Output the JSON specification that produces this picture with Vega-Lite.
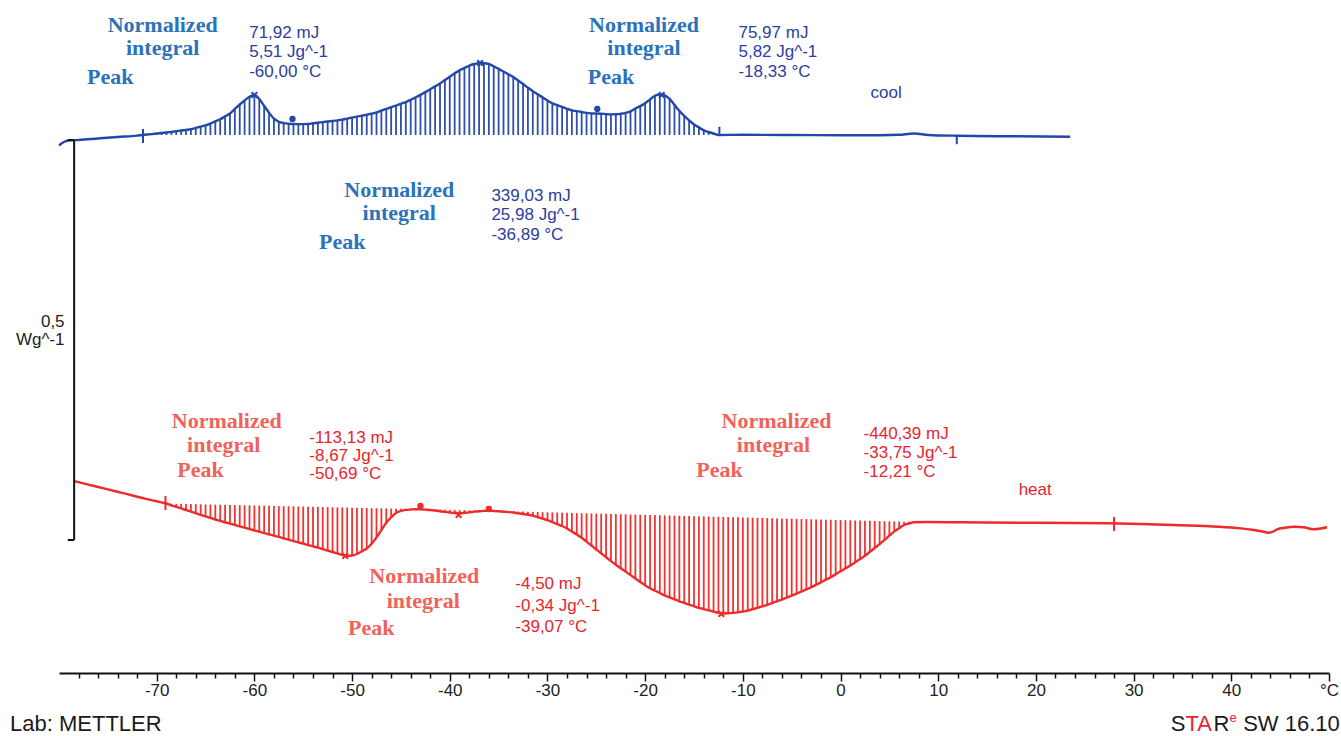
{
  "$schema": "https://vega.github.io/schema/vega-lite/v6.json",
  "width": 1270,
  "height": 673,
  "autosize": {"type": "none"},
  "padding": {"left": 59, "top": 0, "right": 12, "bottom": 63},
  "background": "white",
  "config": {"view": {"stroke": null}, "font": "Liberation Sans"},
  "datasets": {
    "dsc": [
      {"s":"cool","T":-80,"v":493.1},{"s":"cool","T":-79.5,"v":497.5},{"s":"cool","T":-79,"v":499.4},{"s":"cool","T":-78,"v":500.0},{"s":"cool","T":-76,"v":501.9},{"s":"cool","T":-74,"v":503.8},{"s":"cool","T":-72,"v":505.5},
      {"s":"cool","T":-71.5,"v":506.3,"b":506.3},{"s":"cool","T":-71,"v":506.8,"b":506.3},{"s":"cool","T":-70.5,"v":507.4,"b":506.3},{"s":"cool","T":-70,"v":508.1,"b":506.3},{"s":"cool","T":-69.5,"v":508.8,"b":506.3},{"s":"cool","T":-69,"v":509.4,"b":506.3},{"s":"cool","T":-68.5,"v":510.1,"b":506.3},{"s":"cool","T":-68,"v":510.9,"b":506.3},{"s":"cool","T":-67.5,"v":511.8,"b":506.3},{"s":"cool","T":-67,"v":512.6,"b":506.3},{"s":"cool","T":-66.5,"v":513.5,"b":506.3},{"s":"cool","T":-66,"v":515.1,"b":506.3},{"s":"cool","T":-65.5,"v":516.8,"b":506.3},{"s":"cool","T":-65,"v":518.3,"b":506.3},{"s":"cool","T":-64.5,"v":520.6,"b":506.3},{"s":"cool","T":-64,"v":523.3,"b":506.3},{"s":"cool","T":-63.5,"v":525.9,"b":506.3},{"s":"cool","T":-63,"v":529.5,"b":506.3},{"s":"cool","T":-62.5,"v":533.1,"b":506.3},{"s":"cool","T":-62,"v":538.8,"b":506.3},{"s":"cool","T":-61.5,"v":544.4,"b":506.3},{"s":"cool","T":-61,"v":549.6,"b":506.3},{"s":"cool","T":-60.5,"v":554.0,"b":506.3},{"s":"cool","T":-60,"v":556.3,"b":506.3},{"s":"cool","T":-59.5,"v":551.3,"b":506.3},{"s":"cool","T":-59,"v":542.6,"b":506.3},{"s":"cool","T":-58.5,"v":534.1,"b":506.3},{"s":"cool","T":-58,"v":526.8,"b":506.3},{"s":"cool","T":-57.5,"v":522.8,"b":506.3},{"s":"cool","T":-57,"v":521.1,"b":506.3},{"s":"cool","T":-56.5,"v":520.3,"b":506.3},{"s":"cool","T":-56,"v":520.0,"b":506.3},{"s":"cool","T":-55.5,"v":519.9,"b":506.3},{"s":"cool","T":-55,"v":519.9,"b":506.3},{"s":"cool","T":-54.5,"v":520.0,"b":506.3},{"s":"cool","T":-54,"v":520.9,"b":506.3},{"s":"cool","T":-53.5,"v":521.6,"b":506.3},{"s":"cool","T":-53,"v":522.4,"b":506.3},{"s":"cool","T":-52.5,"v":523.1,"b":506.3},{"s":"cool","T":-52,"v":523.9,"b":506.3},{"s":"cool","T":-51.5,"v":524.6,"b":506.3},{"s":"cool","T":-51,"v":525.5,"b":506.3},{"s":"cool","T":-50.5,"v":526.8,"b":506.3},{"s":"cool","T":-50,"v":528.0,"b":506.3},{"s":"cool","T":-49.5,"v":529.3,"b":506.3},{"s":"cool","T":-49,"v":530.4,"b":506.3},{"s":"cool","T":-48.5,"v":531.6,"b":506.3},{"s":"cool","T":-48,"v":532.9,"b":506.3},{"s":"cool","T":-47.5,"v":534.6,"b":506.3},{"s":"cool","T":-47,"v":536.8,"b":506.3},{"s":"cool","T":-46.5,"v":538.9,"b":506.3},{"s":"cool","T":-46,"v":541.0,"b":506.3},{"s":"cool","T":-45.5,"v":543.1,"b":506.3},{"s":"cool","T":-45,"v":545.3,"b":506.3},{"s":"cool","T":-44.5,"v":547.4,"b":506.3},{"s":"cool","T":-44,"v":550.3,"b":506.3},{"s":"cool","T":-43.5,"v":553.3,"b":506.3},{"s":"cool","T":-43,"v":556.4,"b":506.3},{"s":"cool","T":-42.5,"v":559.8,"b":506.3},{"s":"cool","T":-42,"v":563.4,"b":506.3},{"s":"cool","T":-41.5,"v":567.0,"b":506.3},{"s":"cool","T":-41,"v":570.6,"b":506.3},{"s":"cool","T":-40.5,"v":574.9,"b":506.3},{"s":"cool","T":-40,"v":579.1,"b":506.3},{"s":"cool","T":-39.5,"v":583.4,"b":506.3},{"s":"cool","T":-39,"v":587.0,"b":506.3},{"s":"cool","T":-38.5,"v":590.0,"b":506.3},{"s":"cool","T":-38,"v":593.1,"b":506.3},{"s":"cool","T":-37.5,"v":595.0,"b":506.3},{"s":"cool","T":-37,"v":596.1,"b":506.3},{"s":"cool","T":-36.5,"v":596.0,"b":506.3},{"s":"cool","T":-36,"v":595.0,"b":506.3},{"s":"cool","T":-35.5,"v":592.1,"b":506.3},{"s":"cool","T":-35,"v":588.9,"b":506.3},{"s":"cool","T":-34.5,"v":585.5,"b":506.3},{"s":"cool","T":-34,"v":582.1,"b":506.3},{"s":"cool","T":-33.5,"v":578.8,"b":506.3},{"s":"cool","T":-33,"v":574.3,"b":506.3},{"s":"cool","T":-32.5,"v":569.9,"b":506.3},{"s":"cool","T":-32,"v":565.4,"b":506.3},{"s":"cool","T":-31.5,"v":561.0,"b":506.3},{"s":"cool","T":-31,"v":557.1,"b":506.3},{"s":"cool","T":-30.5,"v":553.3,"b":506.3},{"s":"cool","T":-30,"v":549.4,"b":506.3},{"s":"cool","T":-29.5,"v":545.8,"b":506.3},{"s":"cool","T":-29,"v":543.5,"b":506.3},{"s":"cool","T":-28.5,"v":541.3,"b":506.3},{"s":"cool","T":-28,"v":539.0,"b":506.3},{"s":"cool","T":-27.5,"v":537.1,"b":506.3},{"s":"cool","T":-27,"v":536.1,"b":506.3},{"s":"cool","T":-26.5,"v":535.0,"b":506.3},{"s":"cool","T":-26,"v":533.9,"b":506.3},{"s":"cool","T":-25.5,"v":533.3,"b":506.3},{"s":"cool","T":-25,"v":533.1,"b":506.3},{"s":"cool","T":-24.5,"v":532.8,"b":506.3},{"s":"cool","T":-24,"v":532.4,"b":506.3},{"s":"cool","T":-23.5,"v":532.0,"b":506.3},{"s":"cool","T":-23,"v":532.1,"b":506.3},{"s":"cool","T":-22.5,"v":532.8,"b":506.3},{"s":"cool","T":-22,"v":533.9,"b":506.3},{"s":"cool","T":-21.5,"v":535.8,"b":506.3},{"s":"cool","T":-21,"v":539.3,"b":506.3},{"s":"cool","T":-20.5,"v":542.3,"b":506.3},{"s":"cool","T":-20,"v":546.0,"b":506.3},{"s":"cool","T":-19.5,"v":550.8,"b":506.3},{"s":"cool","T":-19,"v":555.3,"b":506.3},{"s":"cool","T":-18.5,"v":556.9,"b":506.3},{"s":"cool","T":-18,"v":555.9,"b":506.3},{"s":"cool","T":-17.5,"v":551.3,"b":506.3},{"s":"cool","T":-17,"v":543.9,"b":506.3},{"s":"cool","T":-16.5,"v":536.5,"b":506.3},{"s":"cool","T":-16,"v":530.1,"b":506.3},{"s":"cool","T":-15.5,"v":524.6,"b":506.3},{"s":"cool","T":-15,"v":519.4,"b":506.3},{"s":"cool","T":-14.5,"v":515.8,"b":506.3},{"s":"cool","T":-14,"v":512.0,"b":506.3},{"s":"cool","T":-13.5,"v":510.0,"b":506.3},{"s":"cool","T":-13,"v":508.1,"b":506.3},{"s":"cool","T":-12.5,"v":506.3,"b":506.3},
      {"s":"cool","T":-10,"v":506.5},{"s":"cool","T":-5,"v":506.3},{"s":"cool","T":0,"v":506.0},{"s":"cool","T":4,"v":505.9},{"s":"cool","T":6,"v":506.5},{"s":"cool","T":7.5,"v":508.1},{"s":"cool","T":9,"v":506.3},{"s":"cool","T":12,"v":505.3},{"s":"cool","T":18,"v":504.6},{"s":"cool","T":23.5,"v":504.0},
      {"s":"heat","T":-78.5,"v":73.8},{"s":"heat","T":-78,"v":72.3},{"s":"heat","T":-77,"v":69.3},{"s":"heat","T":-76,"v":66.3},{"s":"heat","T":-75,"v":63.3},{"s":"heat","T":-74,"v":60.3},{"s":"heat","T":-73,"v":57.3},{"s":"heat","T":-72,"v":54.1},{"s":"heat","T":-71,"v":51.1},{"s":"heat","T":-70,"v":48.4},{"s":"heat","T":-69.5,"v":47.0},
      {"s":"heat","T":-69,"v":45.6,"b":45.6},{"s":"heat","T":-68.5,"v":43.4,"b":45.5},{"s":"heat","T":-68,"v":41.4,"b":45.3},{"s":"heat","T":-67.5,"v":39.4,"b":45.2},{"s":"heat","T":-67,"v":37.5,"b":45.1},{"s":"heat","T":-66.5,"v":35.5,"b":44.9},{"s":"heat","T":-66,"v":33.5,"b":44.8},{"s":"heat","T":-65.5,"v":31.5,"b":44.6},{"s":"heat","T":-65,"v":29.6,"b":44.5},{"s":"heat","T":-64.5,"v":27.6,"b":44.4},{"s":"heat","T":-64,"v":25.6,"b":44.2},{"s":"heat","T":-63.5,"v":23.9,"b":44.1},{"s":"heat","T":-63,"v":22.1,"b":44.0},{"s":"heat","T":-62.5,"v":20.5,"b":43.8},{"s":"heat","T":-62,"v":18.8,"b":43.7},{"s":"heat","T":-61.5,"v":17.0,"b":43.5},{"s":"heat","T":-61,"v":15.4,"b":43.4},{"s":"heat","T":-60.5,"v":13.6,"b":43.3},{"s":"heat","T":-60,"v":12.0,"b":43.1},{"s":"heat","T":-59.5,"v":10.4,"b":43.0},{"s":"heat","T":-59,"v":8.6,"b":42.9},{"s":"heat","T":-58.5,"v":7.0,"b":42.7},{"s":"heat","T":-58,"v":5.4,"b":42.6},{"s":"heat","T":-57.5,"v":3.8,"b":42.4},{"s":"heat","T":-57,"v":2.0,"b":42.3},{"s":"heat","T":-56.5,"v":0.4,"b":42.2},{"s":"heat","T":-56,"v":-1.3,"b":42.0},{"s":"heat","T":-55.5,"v":-2.9,"b":41.9},{"s":"heat","T":-55,"v":-4.5,"b":41.8},{"s":"heat","T":-54.5,"v":-6.3,"b":41.6},{"s":"heat","T":-54,"v":-7.9,"b":41.5},{"s":"heat","T":-53.5,"v":-9.5,"b":41.4},{"s":"heat","T":-53,"v":-11.4,"b":41.2},{"s":"heat","T":-52.5,"v":-13.1,"b":41.1},{"s":"heat","T":-52,"v":-15.0,"b":40.9},{"s":"heat","T":-51.5,"v":-16.8,"b":40.8},{"s":"heat","T":-51,"v":-18.8,"b":40.7},{"s":"heat","T":-50.5,"v":-19.9,"b":40.5},{"s":"heat","T":-50,"v":-19.4,"b":40.4},{"s":"heat","T":-49.5,"v":-17.5,"b":40.3},{"s":"heat","T":-49,"v":-14.0,"b":40.1},{"s":"heat","T":-48.5,"v":-10.6,"b":40.0},{"s":"heat","T":-48,"v":-4.6,"b":39.8},{"s":"heat","T":-47.5,"v":3.3,"b":39.7},{"s":"heat","T":-47,"v":12.4,"b":39.6},{"s":"heat","T":-46.5,"v":21.6,"b":39.4},{"s":"heat","T":-46,"v":28.3,"b":39.3},{"s":"heat","T":-45.5,"v":33.8,"b":39.2},{"s":"heat","T":-45,"v":36.3,"b":39.0},{"s":"heat","T":-44.5,"v":37.6,"b":38.9},{"s":"heat","T":-44,"v":38.1,"b":38.8},{"s":"heat","T":-43.5,"v":38.5,"b":38.6},{"s":"heat","T":-43,"v":38.5,"b":38.5},
      {"s":"heat","T":-42.5,"v":38.0,"b":38.4},{"s":"heat","T":-42,"v":37.5,"b":38.2},{"s":"heat","T":-41.5,"v":36.8,"b":38.1},{"s":"heat","T":-41,"v":36.0,"b":38.0},{"s":"heat","T":-40.5,"v":35.1,"b":37.8},{"s":"heat","T":-40,"v":34.4,"b":37.7},{"s":"heat","T":-39.5,"v":33.8,"b":37.6},{"s":"heat","T":-39,"v":33.5,"b":37.4},{"s":"heat","T":-38.5,"v":34.0,"b":37.3},{"s":"heat","T":-38,"v":34.6,"b":37.1},{"s":"heat","T":-37.5,"v":35.4,"b":37.0},{"s":"heat","T":-37,"v":36.0,"b":36.9},{"s":"heat","T":-36.5,"v":36.4,"b":36.7},{"s":"heat","T":-36,"v":36.6,"b":36.6},
      {"s":"heat","T":-35.5,"v":36.3,"b":36.4},{"s":"heat","T":-35,"v":35.9,"b":36.3},{"s":"heat","T":-34.5,"v":35.4,"b":36.1},{"s":"heat","T":-34,"v":34.9,"b":35.9},{"s":"heat","T":-33.5,"v":34.3,"b":35.8},{"s":"heat","T":-33,"v":33.4,"b":35.6},{"s":"heat","T":-32.5,"v":32.5,"b":35.5},{"s":"heat","T":-32,"v":31.6,"b":35.3},{"s":"heat","T":-31.5,"v":30.4,"b":35.1},{"s":"heat","T":-31,"v":28.5,"b":35.0},{"s":"heat","T":-30.5,"v":26.6,"b":34.8},{"s":"heat","T":-30,"v":24.8,"b":34.7},{"s":"heat","T":-29.5,"v":22.4,"b":34.5},{"s":"heat","T":-29,"v":19.9,"b":34.3},{"s":"heat","T":-28.5,"v":17.5,"b":34.2},{"s":"heat","T":-28,"v":14.3,"b":34.0},{"s":"heat","T":-27.5,"v":10.5,"b":33.8},{"s":"heat","T":-27,"v":6.9,"b":33.7},{"s":"heat","T":-26.5,"v":2.9,"b":33.5},{"s":"heat","T":-26,"v":-2.0,"b":33.4},{"s":"heat","T":-25.5,"v":-6.9,"b":33.2},{"s":"heat","T":-25,"v":-11.8,"b":33.0},{"s":"heat","T":-24.5,"v":-16.6,"b":32.9},{"s":"heat","T":-24,"v":-21.5,"b":32.7},{"s":"heat","T":-23.5,"v":-26.4,"b":32.6},{"s":"heat","T":-23,"v":-31.0,"b":32.4},{"s":"heat","T":-22.5,"v":-35.3,"b":32.2},{"s":"heat","T":-22,"v":-39.5,"b":32.1},{"s":"heat","T":-21.5,"v":-43.9,"b":31.9},{"s":"heat","T":-21,"v":-48.1,"b":31.7},{"s":"heat","T":-20.5,"v":-52.4,"b":31.6},{"s":"heat","T":-20,"v":-56.6,"b":31.4},{"s":"heat","T":-19.5,"v":-60.3,"b":31.3},{"s":"heat","T":-19,"v":-63.3,"b":31.1},{"s":"heat","T":-18.5,"v":-66.3,"b":30.9},{"s":"heat","T":-18,"v":-69.3,"b":30.8},{"s":"heat","T":-17.5,"v":-71.6,"b":30.6},{"s":"heat","T":-17,"v":-74.1,"b":30.4},{"s":"heat","T":-16.5,"v":-76.6,"b":30.3},{"s":"heat","T":-16,"v":-78.6,"b":30.1},{"s":"heat","T":-15.5,"v":-80.8,"b":30.0},{"s":"heat","T":-15,"v":-82.8,"b":29.8},{"s":"heat","T":-14.5,"v":-84.8,"b":29.6},{"s":"heat","T":-14,"v":-86.4,"b":29.5},{"s":"heat","T":-13.5,"v":-88.0,"b":29.3},{"s":"heat","T":-13,"v":-89.5,"b":29.1},{"s":"heat","T":-12.5,"v":-91.0,"b":29.0},{"s":"heat","T":-12,"v":-91.8,"b":28.8},{"s":"heat","T":-11.5,"v":-91.6,"b":28.7},{"s":"heat","T":-11,"v":-91.1,"b":28.5},{"s":"heat","T":-10.5,"v":-90.4,"b":28.3},{"s":"heat","T":-10,"v":-89.5,"b":28.2},{"s":"heat","T":-9.5,"v":-88.3,"b":28.0},{"s":"heat","T":-9,"v":-86.5,"b":27.9},{"s":"heat","T":-8.5,"v":-84.8,"b":27.7},{"s":"heat","T":-8,"v":-83.0,"b":27.5},{"s":"heat","T":-7.5,"v":-81.0,"b":27.4},{"s":"heat","T":-7,"v":-78.8,"b":27.2},{"s":"heat","T":-6.5,"v":-76.6,"b":27.0},{"s":"heat","T":-6,"v":-74.4,"b":26.9},{"s":"heat","T":-5.5,"v":-71.9,"b":26.7},{"s":"heat","T":-5,"v":-69.5,"b":26.6},{"s":"heat","T":-4.5,"v":-67.0,"b":26.4},{"s":"heat","T":-4,"v":-64.4,"b":26.2},{"s":"heat","T":-3.5,"v":-61.8,"b":26.1},{"s":"heat","T":-3,"v":-59.0,"b":25.9},{"s":"heat","T":-2.5,"v":-56.0,"b":25.7},{"s":"heat","T":-2,"v":-52.9,"b":25.6},{"s":"heat","T":-1.5,"v":-49.6,"b":25.4},{"s":"heat","T":-1,"v":-46.5,"b":25.3},{"s":"heat","T":-0.5,"v":-42.9,"b":25.1},{"s":"heat","T":0,"v":-39.1,"b":24.9},{"s":"heat","T":0.5,"v":-35.5,"b":24.8},{"s":"heat","T":1,"v":-31.8,"b":24.6},{"s":"heat","T":1.5,"v":-27.9,"b":24.4},{"s":"heat","T":2,"v":-23.9,"b":24.3},{"s":"heat","T":2.5,"v":-19.8,"b":24.1},{"s":"heat","T":3,"v":-14.9,"b":24.0},{"s":"heat","T":3.5,"v":-10.0,"b":23.8},{"s":"heat","T":4,"v":-5.1,"b":23.6},{"s":"heat","T":4.5,"v":0.1,"b":23.5},{"s":"heat","T":5,"v":5.5,"b":23.3},{"s":"heat","T":5.5,"v":10.8,"b":23.1},{"s":"heat","T":6,"v":14.8,"b":23.0},{"s":"heat","T":6.5,"v":18.8,"b":22.8},{"s":"heat","T":7,"v":20.6,"b":22.7},{"s":"heat","T":7.5,"v":22.1,"b":22.5},
      {"s":"heat","T":8.9,"v":22.5},{"s":"heat","T":12.3,"v":22.1},{"s":"heat","T":20,"v":21.5},{"s":"heat","T":27.3,"v":20.9},{"s":"heat","T":34.1,"v":18.8},{"s":"heat","T":41,"v":14.6},{"s":"heat","T":42.3,"v":12.5},{"s":"heat","T":43.2,"v":10.6},{"s":"heat","T":43.8,"v":9.1},{"s":"heat","T":44.3,"v":10.6},{"s":"heat","T":44.7,"v":13.4},{"s":"heat","T":45.5,"v":15.3},{"s":"heat","T":46.4,"v":16.6},{"s":"heat","T":47.4,"v":15.9},{"s":"heat","T":48.4,"v":13.4},{"s":"heat","T":49.8,"v":15.9}
    ],
    "marks": [
      {"s":"cool","k":"bar","T":-71.4,"v":505},
      {"s":"cool","k":"dot","T":-56.1,"v":526.25},
      {"s":"cool","k":"dot","T":-24.9,"v":538.75},
      {"s":"cool","k":"tick","T":-12.4,"v":511.25},
      {"s":"cool","k":"tick","T":11.9,"v":500},
      {"s":"cool","k":"x","T":-60.0,"v":556.25},
      {"s":"cool","k":"x","T":-36.9,"v":596.25},
      {"s":"cool","k":"x","T":-18.3,"v":556.25},
      {"s":"heat","k":"bar","T":-69.1,"v":46.25},
      {"s":"heat","k":"dot","T":-43.0,"v":42.5},
      {"s":"heat","k":"x","T":-39.1,"v":31.25},
      {"s":"heat","k":"dot","T":-36.0,"v":38.75},
      {"s":"heat","k":"x","T":-50.7,"v":-20},
      {"s":"heat","k":"x","T":-12.2,"v":-92.5},
      {"s":"heat","k":"bar","T":28.0,"v":20}
    ],
    "notes": [
      {"k":"label","s":"cool","T":-69.39,"v":635,"t":"Normalized"},
      {"k":"label","s":"cool","T":-69.39,"v":606.25,"t":"integral"},
      {"k":"label","s":"cool","T":-74.76,"v":570,"t":"Peak"},
      {"k":"label","s":"cool","T":-45.17,"v":428.75,"t":"Normalized"},
      {"k":"label","s":"cool","T":-45.17,"v":400,"t":"integral"},
      {"k":"label","s":"cool","T":-51.0,"v":363.75,"t":"Peak"},
      {"k":"label","s":"cool","T":-20.12,"v":635,"t":"Normalized"},
      {"k":"label","s":"cool","T":-20.12,"v":606.25,"t":"integral"},
      {"k":"label","s":"cool","T":-23.5,"v":570,"t":"Peak"},
      {"k":"label","s":"heat","T":-62.83,"v":140,"t":"Normalized"},
      {"k":"label","s":"heat","T":-63.14,"v":110,"t":"integral"},
      {"k":"label","s":"heat","T":-65.52,"v":78.75,"t":"Peak"},
      {"k":"label","s":"heat","T":-42.61,"v":-53.75,"t":"Normalized"},
      {"k":"label","s":"heat","T":-42.71,"v":-85,"t":"integral"},
      {"k":"label","s":"heat","T":-48.03,"v":-118.75,"t":"Peak"},
      {"k":"label","s":"heat","T":-6.55,"v":140,"t":"Normalized"},
      {"k":"label","s":"heat","T":-6.86,"v":110,"t":"integral"},
      {"k":"label","s":"heat","T":-12.39,"v":78.75,"t":"Peak"},
      {"k":"value","s":"cool","T":-60.53,"v":627.5,"t":"71,92 mJ"},
      {"k":"value","s":"cool","T":-60.53,"v":603.75,"t":"5,51 Jg^-1"},
      {"k":"value","s":"cool","T":-60.53,"v":578.75,"t":"-60,00 °C"},
      {"k":"value","s":"cool","T":-35.74,"v":423.75,"t":"339,03 mJ"},
      {"k":"value","s":"cool","T":-35.74,"v":400,"t":"25,98 Jg^-1"},
      {"k":"value","s":"cool","T":-35.74,"v":375,"t":"-36,89 °C"},
      {"k":"value","s":"cool","T":-10.45,"v":627.5,"t":"75,97 mJ"},
      {"k":"value","s":"cool","T":-10.45,"v":603.75,"t":"5,82 Jg^-1"},
      {"k":"value","s":"cool","T":-10.45,"v":578.75,"t":"-18,33 °C"},
      {"k":"value","s":"heat","T":-54.38,"v":121.25,"t":"-113,13 mJ"},
      {"k":"value","s":"heat","T":-54.38,"v":98.75,"t":"-8,67 Jg^-1"},
      {"k":"value","s":"heat","T":-54.38,"v":76.25,"t":"-50,69 °C"},
      {"k":"value","s":"heat","T":-33.29,"v":-61.25,"t":"-4,50 mJ"},
      {"k":"value","s":"heat","T":-33.29,"v":-88.75,"t":"-0,34 Jg^-1"},
      {"k":"value","s":"heat","T":-33.29,"v":-115,"t":"-39,07 °C"},
      {"k":"value","s":"heat","T":2.36,"v":126.25,"t":"-440,39 mJ"},
      {"k":"value","s":"heat","T":2.36,"v":102.5,"t":"-33,75 Jg^-1"},
      {"k":"value","s":"heat","T":2.36,"v":78.75,"t":"-12,21 °C"},
      {"k":"value","s":"cool","T":3.07,"v":552.5,"t":"cool"},
      {"k":"value","s":"heat","T":18.23,"v":56.25,"t":"heat"},
      {"k":"scale","s":"none","T":-79.43,"v":266.25,"t":"0,5"},
      {"k":"scale","s":"none","T":-79.43,"v":243.75,"t":"Wg^-1"}
    ],
    "bar": [
      {"T":-78.45,"T2":-78.45,"v":0,"v2":500},
      {"T":-79.1,"T2":-78.45,"v":500,"v2":500},
      {"T":-79.1,"T2":-78.45,"v":0,"v2":0}
    ],
    "foot": [
      {"t":"Lab: METTLER","T":-85.01,"v":-238.75},
      {"t":"S","T":33.8,"v":-238.75},
      {"t":"TA","T":35.3,"v":-238.75},
      {"t":"R","T":38.18,"v":-238.75},
      {"t":"e","T":39.81,"v":-227.5},
      {"t":"SW 16.10","T":41.21,"v":-238.75}
    ]
  },
  "encoding": {
    "x": {
      "field": "T", "type": "quantitative",
      "scale": {"domain": [-80, 50], "nice": false, "zero": false},
      "axis": {
        "title": null, "grid": false,
        "values": [-78,-76,-74,-72,-70,-68,-66,-64,-62,-60,-58,-56,-54,-52,-50,-48,-46,-44,-42,-40,-38,-36,-34,-32,-30,-28,-26,-24,-22,-20,-18,-16,-14,-12,-10,-8,-6,-4,-2,0,2,4,6,8,10,12,14,16,18,20,22,24,26,28,30,32,34,36,38,40,42,44,46,48,50],
        "labelExpr": "datum.value === 50 ? '°C' : (datum.value % 10 === 0 ? '' + datum.value : '')",
        "tickSize": {"condition": {"test": "datum.value % 10 === 0", "value": 8}, "value": 5},
        "tickColor": "#111", "tickWidth": 1.5,
        "domainColor": "#111", "domainWidth": 2,
        "labelFont": "Liberation Sans", "labelFontSize": 17, "labelColor": "#222",
        "labelPadding": 1, "labelOverlap": false, "labelFlush": false
      }
    },
    "y": {
      "field": "v", "type": "quantitative",
      "scale": {"domain": [-166.25, 675], "nice": false, "zero": false},
      "axis": null
    }
  },
  "layer": [
    {
      "data": {"name": "dsc"},
      "transform": [{"filter": "isValid(datum.b)"}],
      "mark": {"type": "rule", "strokeWidth": 1.8},
      "encoding": {
        "y2": {"field": "b"},
        "color": {"field": "s", "type": "nominal", "scale": {"domain": ["cool", "heat"], "range": ["#2d4faa", "#f03434"]}, "legend": null}
      }
    },
    {
      "data": {"name": "dsc"},
      "mark": {"type": "line", "strokeWidth": 2.4, "interpolate": "monotone"},
      "encoding": {
        "color": {"field": "s", "type": "nominal", "scale": {"domain": ["cool", "heat"], "range": ["#2448a8", "#ee2a2a"]}, "legend": null}
      }
    },
    {
      "data": {"name": "marks"},
      "transform": [{"filter": "datum.k !== 'dot'"}],
      "mark": {"type": "point", "filled": false, "strokeWidth": 2, "size": 196, "opacity": 1},
      "encoding": {
        "shape": {"field": "k", "type": "nominal", "scale": {"domain": ["bar", "tick", "x"], "range": ["M0,-1V1", "M0,-0.6V0.6", "M-0.4,-0.4L0.4,0.4M-0.4,0.4L0.4,-0.4"]}, "legend": null},
        "color": {"field": "s", "type": "nominal", "scale": {"domain": ["cool", "heat"], "range": ["#2448a8", "#ee2a2a"]}, "legend": null}
      }
    },
    {
      "data": {"name": "marks"},
      "transform": [{"filter": "datum.k === 'dot'"}],
      "mark": {"type": "point", "filled": true, "shape": "circle", "size": 40, "opacity": 1},
      "encoding": {
        "color": {"field": "s", "type": "nominal", "scale": {"domain": ["cool", "heat"], "range": ["#2448a8", "#ee2a2a"]}, "legend": null}
      }
    },
    {
      "data": {"name": "notes"},
      "transform": [{"filter": "datum.k === 'label'"}],
      "mark": {"type": "text", "align": "center", "baseline": "alphabetic", "font": "Liberation Serif", "fontWeight": "bold", "fontSize": 22},
      "encoding": {
        "text": {"field": "t"},
        "color": {"field": "s", "type": "nominal", "scale": {"domain": ["cool", "heat"], "range": ["#2a72ba", "#f0625a"]}, "legend": null}
      }
    },
    {
      "data": {"name": "notes"},
      "transform": [{"filter": "datum.k === 'value'"}],
      "mark": {"type": "text", "align": "left", "baseline": "alphabetic", "font": "Liberation Sans", "fontSize": 17},
      "encoding": {
        "text": {"field": "t"},
        "color": {"field": "s", "type": "nominal", "scale": {"domain": ["cool", "heat"], "range": ["#2b409e", "#e8242e"]}, "legend": null}
      }
    },
    {
      "data": {"name": "bar"},
      "mark": {"type": "rule", "strokeWidth": 2, "color": "#111"},
      "encoding": {
        "x2": {"field": "T2"},
        "y2": {"field": "v2"}
      }
    },
    {
      "data": {"name": "notes"},
      "transform": [{"filter": "datum.k === 'scale'"}],
      "mark": {"type": "text", "align": "right", "baseline": "alphabetic", "font": "Liberation Sans", "fontSize": 17, "color": "#222"},
      "encoding": {"text": {"field": "t"}}
    },
    {
      "data": {"name": "foot"},
      "mark": {"type": "text", "align": "left", "baseline": "alphabetic", "font": "Liberation Sans"},
      "encoding": {
        "text": {"field": "t"},
        "size": {"condition": {"test": "datum.t === 'e'", "value": 13}, "value": 22},
        "color": {"condition": {"test": "datum.t === 'TA' || datum.t === 'e'", "value": "#e8242e"}, "value": "#1a1a1a"}
      }
    }
  ],
  "resolve": {"scale": {"color": "independent", "shape": "independent", "size": "independent"}}
}
